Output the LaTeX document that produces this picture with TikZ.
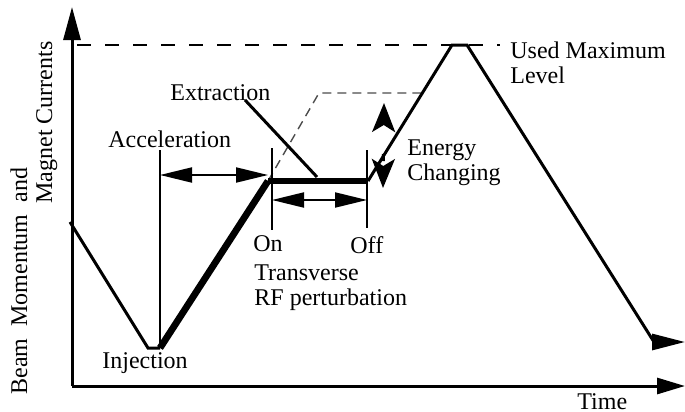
\documentclass[tikz,border=0pt]{standalone}
\usepackage{fontspec}
\setmainfont{Liberation Serif}
\usetikzlibrary{arrows.meta}

\begin{document}
\begin{tikzpicture}[x=0.5pt, y=-0.5pt, font=\fontsize{12}{14}\selectfont]
\tikzstyle{lbl}=[anchor=base west, inner sep=0pt]
\tikzstyle{axis}=[line width=1.5pt]
\tikzstyle{ramp}=[line width=1.5pt]
\tikzstyle{beam}=[line width=3.4pt]
\tikzstyle{flat}=[line width=2.7pt]
\tikzstyle{gate}=[line width=1.2pt]
\tikzstyle{span}=[line width=1pt, {Triangle[length=16pt,width=7.5pt]}-{Triangle[length=16pt,width=7.5pt]}]
\tikzstyle{maxline}=[line width=0.7pt, dash pattern=on 7pt off 7pt]
\tikzstyle{flatline}=[line width=0.7pt, black!70, dash pattern=on 4.5pt off 3pt]
\tikzstyle{swing}=[line width=1.5pt, dash pattern=on 0pt off 3pt on 3.5pt off 40pt,
  {Stealth[length=14.5pt,width=11.5pt,inset=3.5pt]}-{Stealth[length=14.5pt,width=11.5pt,inset=3.5pt]}]
\useasboundingbox (0,0) rectangle (685,412);

% points of the cycle
\coordinate (o) at (72,386);
\coordinate (ytip) at (72,7);
\coordinate (xtip) at (685,386);
\coordinate (start) at (70,222);
\coordinate (inj1) at (148,348);
\coordinate (inj2) at (160,348);
\coordinate (ext1) at (268,181);
\coordinate (ext2) at (368,181);
\coordinate (top1) at (452,45);
\coordinate (top2) at (467,45);
\coordinate (dn) at (654,342);
\coordinate (dnend) at (685,342);

% helper points
\coordinate (maxbeg) at (77,45);
\coordinate (maxend) at (500,45);
\coordinate (proj) at (319,93);
\coordinate (projend) at (422,93);
\coordinate (acctop) at (160,150);
\coordinate (accl) at (160,175);
\coordinate (accr) at (268,175);
\coordinate (extp1) at (245,100);
\coordinate (extp2) at (317,177);
\coordinate (on1) at (272,148);
\coordinate (on2) at (272,230);
\coordinate (off1) at (367,150);
\coordinate (off2) at (367,228);
\coordinate (rfl) at (272,200);
\coordinate (rfr) at (367,200);
\coordinate (eup) at (384,103);
\coordinate (edn) at (383,188);

% labels
\node[lbl] (acc) at (108,147) {Acceleration};
\node[lbl] (ext) at (170,100) {Extraction};
\node[lbl] (inj) at (102,368) {Injection};
\node[lbl] (on) at (253,251) {On};
\node[lbl] (off) at (350,253) {Off};
\node[lbl] (tr) at (254,280) {Transverse};
\node[lbl] (rf) at (254,305) {RF perturbation};
\node[lbl] (en) at (407,155) {Energy};
\node[lbl] (ch) at (407,180) {Changing};
\node[lbl] (used) at (510,58) {Used Maximum};
\node[lbl] (lev) at (510,83) {Level};
\node[lbl] (time) at (577,409) {Time};
\node[lbl, rotate=90] (yl1) at (27,395) {Beam\ \ Momentum\ \ and};
\node[lbl, rotate=90] (yl2) at (52,204) {Magnet Currents};

% axes
\draw[axis, -{Triangle[length=16.5pt,width=8.5pt]}] (o) -- (ytip);
\draw[axis, -{Triangle[length=14pt,width=8pt]}] (o) -- (xtip);

% levels
\draw[maxline] (maxbeg) -- (maxend);
\draw[flatline] (ext1) -- (proj) -- (projend);

% magnet cycle
\draw[ramp] (start) -- (inj1) -- (inj2);
\draw[beam] (inj2) -- (ext1);
\draw[flat] (ext1) -- (ext2);
\draw[ramp, -{Triangle[length=16.5pt,width=8pt]}] (ext2) -- (top1) -- (top2) -- (dn) -- (dnend);

% markers
\draw[gate] (acctop) -- (inj2);
\draw[span] (accl) -- (accr);
\draw[ramp] (extp1) -- (extp2);
\draw[gate] (on1) -- (on2);
\draw[gate] (off1) -- (off2);
\draw[span] (rfl) -- (rfr);
\draw[swing] (edn) -- (eup);

\end{tikzpicture}
\end{document}
